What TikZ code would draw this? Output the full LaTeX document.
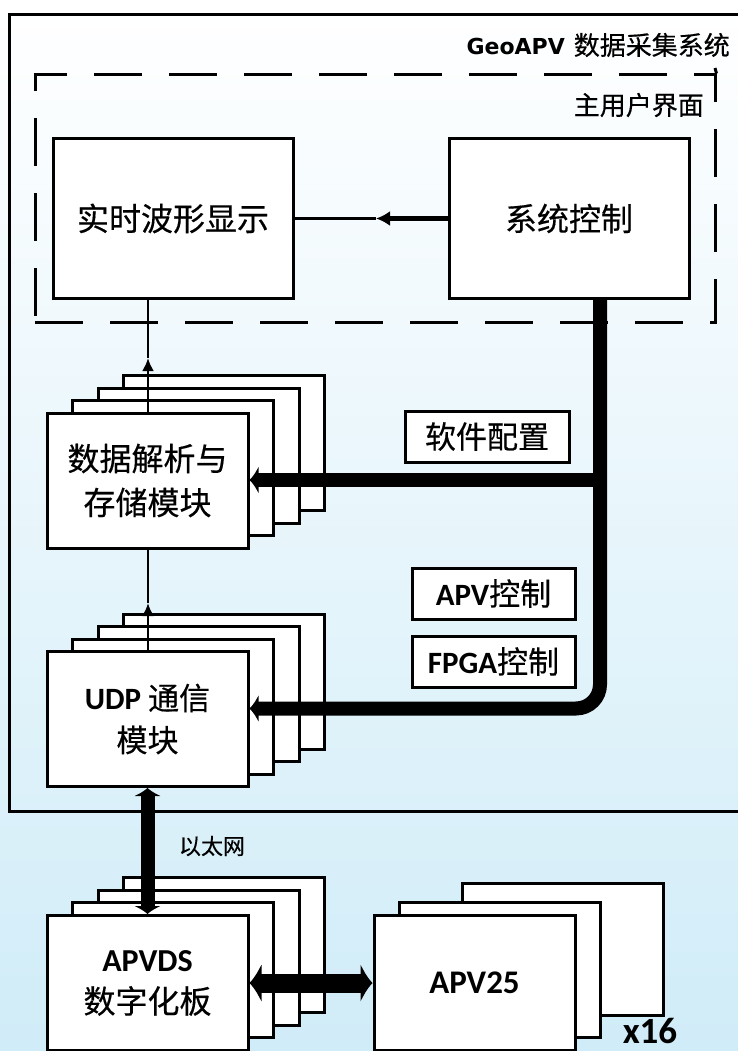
\documentclass[tikz,border=0pt]{standalone}
\usepackage{fontspec}
\setmainfont{Carlito}
\newfontfamily\cjk{Noto Sans CJK SC}[FakeBold=0.4]
\newfontfamily\dvs{DejaVu Sans}
\usetikzlibrary{arrows.meta,calc}
\definecolor{bgmid}{RGB}{238,246,250}
\definecolor{bgbot}{RGB}{208,236,248}
\newcommand\myfs[2]{\fontsize{#1}{#2}\selectfont}
\begin{document}
\begin{tikzpicture}[x=1pt,y=-1pt,
  box/.style={draw, line width=3pt, fill=white, inner sep=0pt, align=center,
              minimum width=201pt, minimum height=135pt},
  bigbox/.style={draw, line width=3pt, fill=white, inner sep=0pt, align=center,
              minimum width=240pt, minimum height=159pt, font=\cjk\myfs{32}{40}},
  lbl/.style={draw, line width=3pt, fill=white, inner sep=0pt,
              minimum width=163pt, minimum height=51pt},
  thinline/.style={line width=2.5pt},
  bus/.style={line width=14pt},
  bustip/.style={-{Latex[length=9pt,width=28pt]}},
  smalltip/.style={-{Latex[length=13pt,width=12pt]}}
]
\useasboundingbox (0,0) rectangle (738,1051);
\shade[top color=white, middle color=bgmid, bottom color=bgbot] (0,0) rectangle (738,1051);

% outer frame
\node[draw, line width=3pt, minimum width=742pt, minimum height=797pt, anchor=north west, inner sep=0pt] (frame) at (8,13) {};
\node[anchor=east, inner sep=0pt] (title) at (730,45)
  {{\dvs\bfseries\myfs{22}{24}GeoAPV}\hspace{9pt}{\cjk\myfs{26}{30}数据采集系统}};

% dashed UI frame
\node[draw, line width=3pt, dash pattern=on 48pt off 27pt, minimum width=680pt, minimum height=247pt, inner sep=0pt] (ui) at (375,198.5) {};
\coordinate (tick) at (715,68);
\draw[line width=3pt] (tick) -- (ui.north east);
\node[anchor=east, inner sep=0pt, font=\cjk\myfs{26}{30}] (uilbl) at (704,105) {主用户界面};

\node[bigbox] (wave) at (173,218.5) {实时波形显示};
\node[bigbox] (sys) at (569,218.5) {系统控制};

% data stack
\node[box] (data4) at (224,443) {};
\node[box] (data3) at (198.5,455.5) {};
\node[box] (data2) at (173,468) {};
\node[box, font=\cjk\myfs{32}{44}] (data) at (147.5,480.5) {数据解析与\\存储模块};

% udp stack
\node[box] (udp4) at (224,681.5) {};
\node[box] (udp3) at (198.5,694) {};
\node[box] (udp2) at (173,706.5) {};
\node[box, font=\cjk\myfs{31}{42}] (udp) at (147.5,719) {{\rmfamily\bfseries UDP} 通信\\模块};

% apvds stack
\node[box] (apvds4) at (224,945) {};
\node[box] (apvds3) at (198.5,957.5) {};
\node[box] (apvds2) at (173,970) {};
\node[box, font=\cjk\myfs{32}{42}] (apvds) at (147.5,983) {{\rmfamily\bfseries APVDS}\\数字化板};

% apv25 stack
\node[box, minimum height=132pt] (apv3) at (562.5,949) {};
\node[box] (apv2) at (500,970) {};
\node[box, font=\rmfamily\bfseries\myfs{33}{36}] (apv) at (474.5,983) {APV25};
\node[anchor=base, inner sep=0pt, font=\rmfamily\bfseries\myfs{37}{40}] (x16) at (650,1043) {x16};

% label boxes
\node[lbl, minimum width=164pt, font=\cjk\myfs{31}{34}] (sw) at (487,436.5) {软件配置};
\node[lbl, font=\cjk\myfs{31}{34}] (apvc) at (493.5,593.5) {{\rmfamily\bfseries APV}控制};
\node[lbl, font=\cjk\myfs{31}{34}] (fpgac) at (493.5,661.5) {{\rmfamily\bfseries FPGA}控制};

% thin connectors
\coordinate (midA) at (376,218.5);
\draw[thinline] (midA) -- (wave.east);
\draw[line width=5pt, -{Latex[length=14pt,width=15pt]}] (sys.west) -- (midA);

\coordinate (midB) at (148,358);
\draw[thinline, smalltip] (data.north -| midB) -- (midB);
\draw[thinline] (midB) -- (midB |- wave.south);

\coordinate (midC) at (148,603);
\draw[thinline, smalltip] (udp.north -| midC) -- (midC);
\draw[thinline] (midC) -- (midC |- data.south);

% control bus
\coordinate (bend) at (600,708.5);
\coordinate (junc) at (600,480);
\draw[bus, bustip, rounded corners=24pt] ($(sys.south)+(31,0)$) -- (bend) -- (udp.east |- bend);
\draw[bus, bustip] (junc) -- (data.east |- junc);

% ethernet
\draw[line width=14pt, {Latex[length=8pt,width=28pt]}-{Latex[length=8pt,width=28pt]}] (udp.south) -- (apvds.north);
\node[font=\cjk\myfs{22}{26}, inner sep=0pt] (eth) at (212,846) {以太网};

% apvds <-> apv25
\draw[line width=19pt, {Latex[length=12pt,width=40pt]}-{Latex[length=12pt,width=40pt]}] (apvds.east) -- (apv.west);
\end{tikzpicture}
\end{document}
